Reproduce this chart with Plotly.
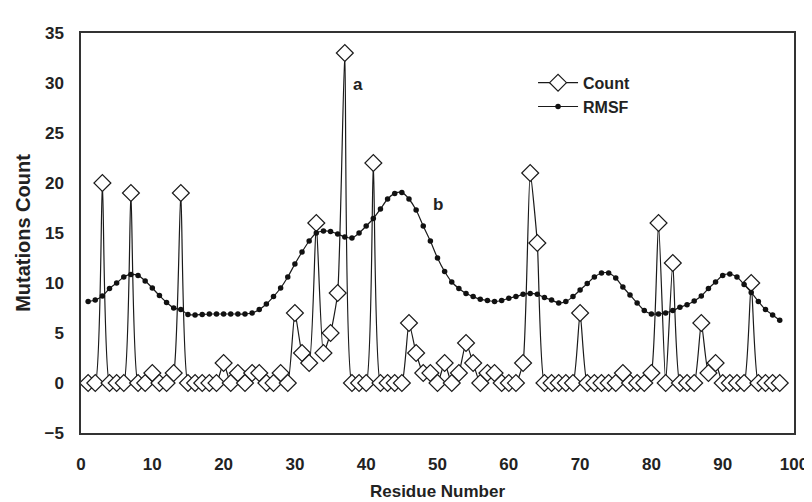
import plotly.graph_objects as go

# residue numbers 1..98
residues = list(range(1, 99))

count = [
    0, 0, 20, 0, 0, 0, 19, 0, 0, 1,
    0, 0, 1, 19, 0, 0, 0, 0, 0, 2,
    0, 1, 0, 1, 1, 0, 0, 1, 0, 7,
    3, 2, 16, 3, 5, 9, 33, 0, 0, 0,
    22, 0, 0, 0, 0, 6, 3, 1, 1, 0,
    2, 0, 1, 4, 2, 0, 1, 1, 0, 0,
    0, 2, 21, 14, 0, 0, 0, 0, 0, 7,
    0, 0, 0, 0, 0, 1, 0, 0, 0, 1,
    16, 0, 12, 0, 0, 0, 6, 1, 2, 0,
    0, 0, 0, 10, 0, 0, 0, 0,
]

rmsf = [
    8.15, 8.3, 8.7, 9.45, 10.0, 10.6, 10.86, 10.76, 10.2, 9.5,
    8.74, 8.06, 7.5, 7.34, 6.86, 6.8, 6.86, 6.9, 6.9, 6.9,
    6.9, 6.9, 6.9, 7.0, 7.34, 7.9, 8.64, 9.5, 10.6, 11.9,
    13.1, 14.2, 15.0, 15.2, 15.15, 14.9, 14.6, 14.5, 15.0, 15.7,
    16.45, 17.4, 18.4, 18.96, 19.06, 18.4, 17.3, 15.7, 14.2, 12.5,
    11.15, 10.1, 9.45, 8.96, 8.64, 8.38, 8.25, 8.15, 8.25, 8.48,
    8.64, 8.87, 8.96, 8.87, 8.55, 8.3, 8.0, 8.15, 8.64, 9.3,
    9.94, 10.6, 11.0, 11.0, 10.5, 9.6, 8.8, 8.0, 7.25, 6.9,
    6.9, 7.0, 7.25, 7.57, 7.83, 8.2, 8.7, 9.45, 10.1, 10.76,
    10.9, 10.6, 9.84, 9.06, 8.15, 7.34, 6.8, 6.27,
]

FONT = "Liberation Sans, Arial, sans-serif"
INK = "#222222"

fig = go.Figure()

fig.add_trace(go.Scatter(
    x=residues, y=count, name="Count", mode="lines+markers",
    line=dict(color="#1a1a1a", width=1.2, shape="spline", smoothing=0.5),
    marker=dict(symbol="diamond", size=13, color="white",
                line=dict(color="#1a1a1a", width=1.2)),
))

fig.add_trace(go.Scatter(
    x=residues, y=rmsf, name="RMSF", mode="lines+markers",
    line=dict(color="#1a1a1a", width=1.2, shape="spline", smoothing=0.8),
    marker=dict(symbol="circle", size=5.5, color="#111111"),
))

# peak labels
fig.add_annotation(x=38.9, y=29.9, text="a", showarrow=False,
                   font=dict(family=FONT, size=17, color=INK, weight="bold"))
fig.add_annotation(x=50.1, y=17.9, text="b", showarrow=False,
                   font=dict(family=FONT, size=17, color=INK, weight="bold"))

axis_common = dict(
    showgrid=False, zeroline=False, showline=True, mirror=True,
    linecolor="#333333", linewidth=1.5, ticks="",
    tickfont=dict(family=FONT, size=17, color=INK, weight="bold"),
)

fig.update_xaxes(
    range=[0, 100], tickvals=[0, 10, 20, 30, 40, 50, 60, 70, 80, 90, 100],
    ticklabelstandoff=15,
    title=dict(text="Residue Number", standoff=12,
               font=dict(family=FONT, size=17, color=INK, weight="bold")),
    **axis_common,
)
fig.update_yaxes(
    range=[-5, 35], tickvals=[-5, 0, 5, 10, 15, 20, 25, 30, 35],
    ticklabelstandoff=12,
    title=dict(text="Mutations Count", standoff=8,
               font=dict(family=FONT, size=20, color=INK, weight="bold")),
    **axis_common,
)

fig.update_layout(
    width=812, height=502,
    margin=dict(l=73, r=17, t=25, b=65),
    paper_bgcolor="white", plot_bgcolor="white",
    font=dict(family=FONT, color=INK),
    legend=dict(x=0.634, y=0.918, xanchor="left", yanchor="top",
                bgcolor="rgba(0,0,0,0)", itemwidth=40,
                font=dict(family=FONT, size=16, color=INK, weight="bold")),
)

fig.write_html("out.html")
